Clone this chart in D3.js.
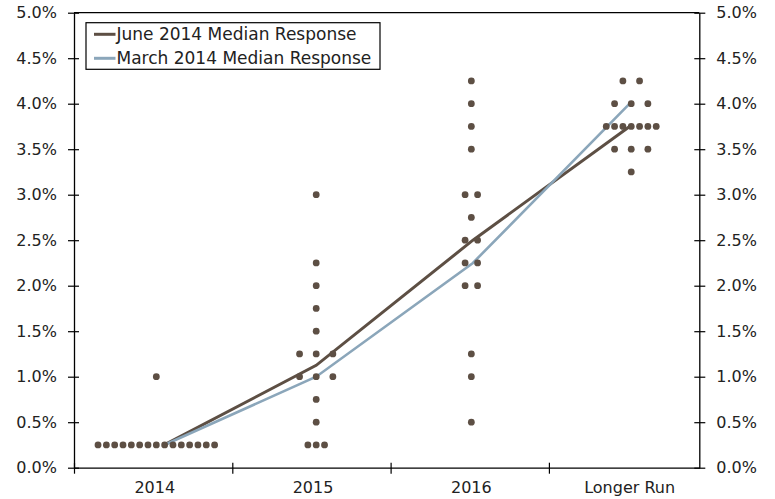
<!DOCTYPE html>
<html>
<head>
<meta charset="utf-8">
<script src="https://cdn.jsdelivr.net/npm/d3@7"></script>
<style>
  html, body { margin: 0; padding: 0; background: #fff; }
  text { font-family: "DejaVu Sans", Verdana, sans-serif; fill: #222; }
</style>
</head>
<body>
<svg id="chart" width="775" height="499"></svg>
<script>
// ---------- data ----------
const categories = ["2014", "2015", "2016", "Longer Run"];
const categoryCenters = [0.52, 1.53, 2.51, 3.52];      // dot-column position (category units)
const medianX = [0.57, 1.53, 2.52, 3.51];              // median line vertices (category units)
const yTicks = [0, 0.5, 1.0, 1.5, 2.0, 2.5, 3.0, 3.5, 4.0, 4.5, 5.0];
const juneMedian = [0.25, 1.125, 2.5, 3.75];
const marchMedian = [0.25, 1.0, 2.25, 4.0];
// participant dots: [rate, count, spacing in dot-slots]
const dots2014 = [[1.0, 1, 1], [0.25, 15, 1]];
const dots2015 = [[3.0, 1, 1], [2.25, 1, 1], [2.0, 1, 1], [1.75, 1, 1], [1.5, 1, 1],
                  [1.25, 3, 2], [1.0, 3, 2], [0.75, 1, 1], [0.5, 1, 1], [0.25, 3, 1]];
const dots2016 = [[4.25, 1, 1], [4.0, 1, 1], [3.75, 1, 1], [3.5, 1, 1], [3.0, 2, 1.5],
                  [2.75, 1, 1], [2.5, 2, 1.5], [2.25, 2, 1.5], [2.0, 2, 1.5],
                  [1.25, 1, 1], [1.0, 1, 1], [0.5, 1, 1]];
const dotsLonger = [[4.25, 2, 2], [4.0, 3, 2], [3.75, 7, 1], [3.5, 3, 2], [3.25, 1, 1]];
const dotSets = [dots2014, dots2015, dots2016, dotsLonger];
const seriesNames = ["June 2014 Median Response", "March 2014 Median Response"];

// ---------- layout ----------
(function () {
const svg = d3.select("#chart");
const mLeft = 74, mRight = 699.3, mTop = 12.7, mBottom = 467.7;
const x = d3.scaleLinear().domain([0, 3.95]).range([mLeft, mRight]);
const y = d3.scaleLinear().domain([0, 5]).range([mBottom, mTop]);
const slot = 0.0526;   // dot slot width in category units
const brown = "#5d4f44", blue = "#8ba6ba";

// axes
const fmt = d => d.toFixed(1) + "%";
const yl = svg.append("g").attr("transform", `translate(${mLeft},0)`)
  .call(d3.axisLeft(y).tickValues(yTicks).tickFormat(fmt).tickSizeInner(6).tickSizeOuter(0).tickPadding(11));
const yr = svg.append("g").attr("transform", `translate(${mRight},0)`)
  .call(d3.axisRight(y).tickValues(yTicks).tickFormat(fmt).tickSizeInner(6).tickSizeOuter(0).tickPadding(11));
const xb = svg.append("g").attr("transform", `translate(0,${mBottom})`)
  .call(d3.axisBottom(x).tickValues([0, 1, 2, 3]).tickFormat("").tickSizeInner(6).tickSizeOuter(0));
[yl, yr, xb].forEach(g => {
  g.select(".domain").attr("stroke", "#000").attr("stroke-width", 1.3);
  g.selectAll(".tick line").attr("stroke", "#000").attr("stroke-width", 1.2);
  g.selectAll(".tick text").style("font-size", "16px").attr("fill", "#222");
});
// cross ticks (extend to other side)
yl.selectAll(".tick line").attr("x1", 5);
yr.selectAll(".tick line").attr("x1", -5);
xb.selectAll(".tick line").attr("y1", -5);
// top frame
svg.append("line").attr("x1", mLeft).attr("x2", mRight).attr("y1", y(5)).attr("y2", y(5))
  .attr("stroke", "#000").attr("stroke-width", 1.3);

// category labels
svg.append("g").selectAll("text").data(categories).join("text")
  .attr("x", (d, i) => x(i + 0.51))
  .attr("y", mBottom + 25)
  .attr("text-anchor", "middle")
  .style("font-size", "16px")
  .text(d => d);

// median lines
const line = d3.line().x((d, i) => x(medianX[i])).y(d => y(d));
svg.append("path").datum(juneMedian).attr("d", line)
  .attr("fill", "none").attr("stroke", brown).attr("stroke-width", 3);
svg.append("path").datum(marchMedian).attr("d", line)
  .attr("fill", "none").attr("stroke", blue).attr("stroke-width", 2.6);

// dots
const pts = [];
dotSets.forEach((rows, ci) => {
  rows.forEach(([rate, count, gap]) => {
    for (let k = 0; k < count; k++) {
      pts.push({ cx: categoryCenters[ci] + (k - (count - 1) / 2) * gap * slot, rate });
    }
  });
});
svg.append("g").selectAll("circle").data(pts).join("circle")
  .attr("cx", d => x(d.cx)).attr("cy", d => y(d.rate)).attr("r", 3.4)
  .attr("fill", brown);

// legend
const lg = svg.append("g");
lg.append("rect").attr("x", 86).attr("y", 22.7).attr("width", 294).attr("height", 46.6)
  .attr("fill", "#fff").attr("stroke", "#000").attr("stroke-width", 1.2);
[brown, blue].forEach((c, i) => {
  const yy = 34.3 + i * 24;
  lg.append("line").attr("x1", 94).attr("x2", 115.5).attr("y1", yy).attr("y2", yy)
    .attr("stroke", c).attr("stroke-width", 3);
  lg.append("text").attr("x", 116.5).attr("y", yy).attr("dy", "0.36em")
    .style("font-size", "17px").text(seriesNames[i]);
});
})();
</script>
</body>
</html>
